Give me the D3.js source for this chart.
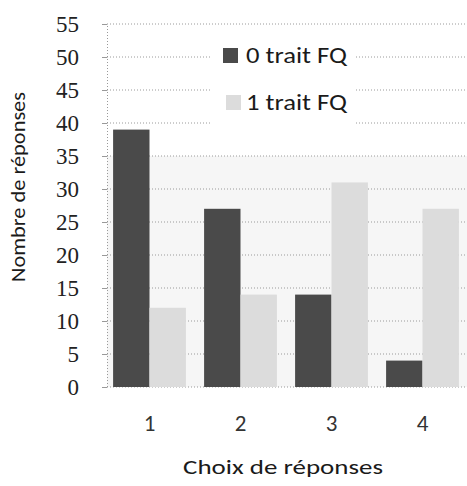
<!DOCTYPE html>
<html>
<head>
<meta charset="utf-8">
<script src="https://cdn.jsdelivr.net/npm/d3@7"></script>
<style>
  html, body { margin: 0; padding: 0; background: #fff; }
  svg { display: block; }
</style>
</head>
<body>
<svg id="chart" width="467" height="486"></svg>
<script>
// Response choices and counts per group
const categories = ["1", "2", "3", "4"];
const seriesNames = ["0 trait FQ", "1 trait FQ"];
const zeroTrait = [39, 27, 14, 4];
const oneTrait = [12, 14, 31, 27];
const yTicks = [0, 5, 10, 15, 20, 25, 30, 35, 40, 45, 50, 55];
const seriesColors = ["#4a4a4a", "#dcdcdc"];

(function () {
const svg = d3.select("#chart");
const plotLeft = 107, plotRight = 467, plotTop = 24, plotBottom = 387;
const sans = "Carlito";
const serif = "Liberation Serif";

const y = d3.scaleLinear().domain([0, 55]).range([plotBottom, plotTop]);
const x0 = d3.scaleBand().domain(categories).range([104, 468])
  .paddingInner(0.2).paddingOuter(0.1);
const x1 = d3.scaleBand().domain(seriesNames).range([0, x0.bandwidth()]).padding(0);

// faint plot tint in the lower part of the plot
svg.append("rect")
  .attr("x", plotLeft).attr("y", y(35))
  .attr("width", plotRight - plotLeft).attr("height", y(0) - y(35))
  .attr("fill", "#f6f6f6");

// dotted horizontal gridlines
svg.append("g").selectAll("line").data(yTicks.filter(d => d > 0)).join("line")
  .attr("x1", plotLeft).attr("x2", plotRight)
  .attr("y1", d => y(d)).attr("y2", d => y(d))
  .attr("stroke", "#9a9a9a").attr("stroke-width", 1)
  .attr("stroke-dasharray", "1,2");

// y axis: line and ticks from d3.axisLeft, labels set in a serif face
const yAxis = d3.axisLeft(y).tickValues(yTicks).tickSize(5).tickFormat("");
const gy = svg.append("g").attr("transform", `translate(${plotLeft},0)`).call(yAxis);
gy.select(".domain").attr("stroke", "#999").attr("stroke-dasharray", "1,2");
gy.selectAll(".tick line").attr("stroke", "#999");
gy.selectAll(".tick text").remove();
gy.selectAll(".tick").append("text")
  .attr("x", -28).attr("dy", "0.34em")
  .attr("text-anchor", "end")
  .attr("font-family", serif).attr("font-size", 23)
  .attr("fill", "#222")
  .text(d => d3.format("d")(d));

// baseline
svg.append("line")
  .attr("x1", plotLeft).attr("x2", plotRight)
  .attr("y1", plotBottom).attr("y2", plotBottom)
  .attr("stroke", "#999").attr("stroke-dasharray", "1,2");

// bars
const rows = categories.map((c, i) => ({ cat: c, vals: [zeroTrait[i], oneTrait[i]] }));
const groups = svg.append("g").selectAll("g").data(rows).join("g")
  .attr("transform", d => `translate(${x0(d.cat)},0)`);
groups.selectAll("rect")
  .data(d => d.vals.map((v, j) => ({ name: seriesNames[j], v, j })))
  .join("rect")
  .attr("x", d => x1(d.name))
  .attr("y", d => y(d.v))
  .attr("width", x1.bandwidth())
  .attr("height", d => y(0) - y(d.v))
  .attr("fill", d => seriesColors[d.j]);

// x axis labels
const xAxis = d3.axisBottom(x0).tickSize(0).tickFormat("");
const gx = svg.append("g").attr("transform", `translate(0,${plotBottom})`).call(xAxis);
gx.select(".domain").remove();
gx.selectAll(".tick text").remove();
gx.selectAll(".tick").append("text")
  .attr("y", 44).attr("text-anchor", "middle")
  .attr("font-family", sans).attr("font-size", 23)
  .attr("fill", "#333")
  .text(d => d);

// legend
const legend = svg.append("g");
legend.append("rect")
  .attr("x", 210).attr("y", 38).attr("width", 145).attr("height", 114)
  .attr("fill", "#fff");
const legendRows = [
  { name: seriesNames[0], color: seriesColors[0], sx: 223, sy: 48, ty: 63 },
  { name: seriesNames[1], color: seriesColors[1], sx: 226, sy: 95, ty: 110 }
];
legendRows.forEach(r => {
  legend.append("rect").attr("x", r.sx).attr("y", r.sy)
    .attr("width", 15).attr("height", 15).attr("fill", r.color);
  legend.append("text").attr("x", 246).attr("y", r.ty)
    .attr("font-family", sans).attr("font-size", 23)
    .attr("fill", "#1a1a1a")
    .attr("textLength", 101).attr("lengthAdjust", "spacingAndGlyphs")
    .text(r.name);
});

// axis titles
svg.append("text")
  .attr("x", 283).attr("y", 474).attr("text-anchor", "middle")
  .attr("font-family", sans).attr("font-size", 21)
  .attr("fill", "#1a1a1a")
  .attr("textLength", 200).attr("lengthAdjust", "spacingAndGlyphs")
  .text("Choix de réponses");

svg.append("text")
  .attr("transform", "translate(25,187) rotate(-90)")
  .attr("text-anchor", "middle")
  .attr("font-family", sans).attr("font-size", 21)
  .attr("fill", "#1a1a1a")
  .attr("textLength", 190).attr("lengthAdjust", "spacingAndGlyphs")
  .text("Nombre de réponses");
})();
</script>
</body>
</html>
